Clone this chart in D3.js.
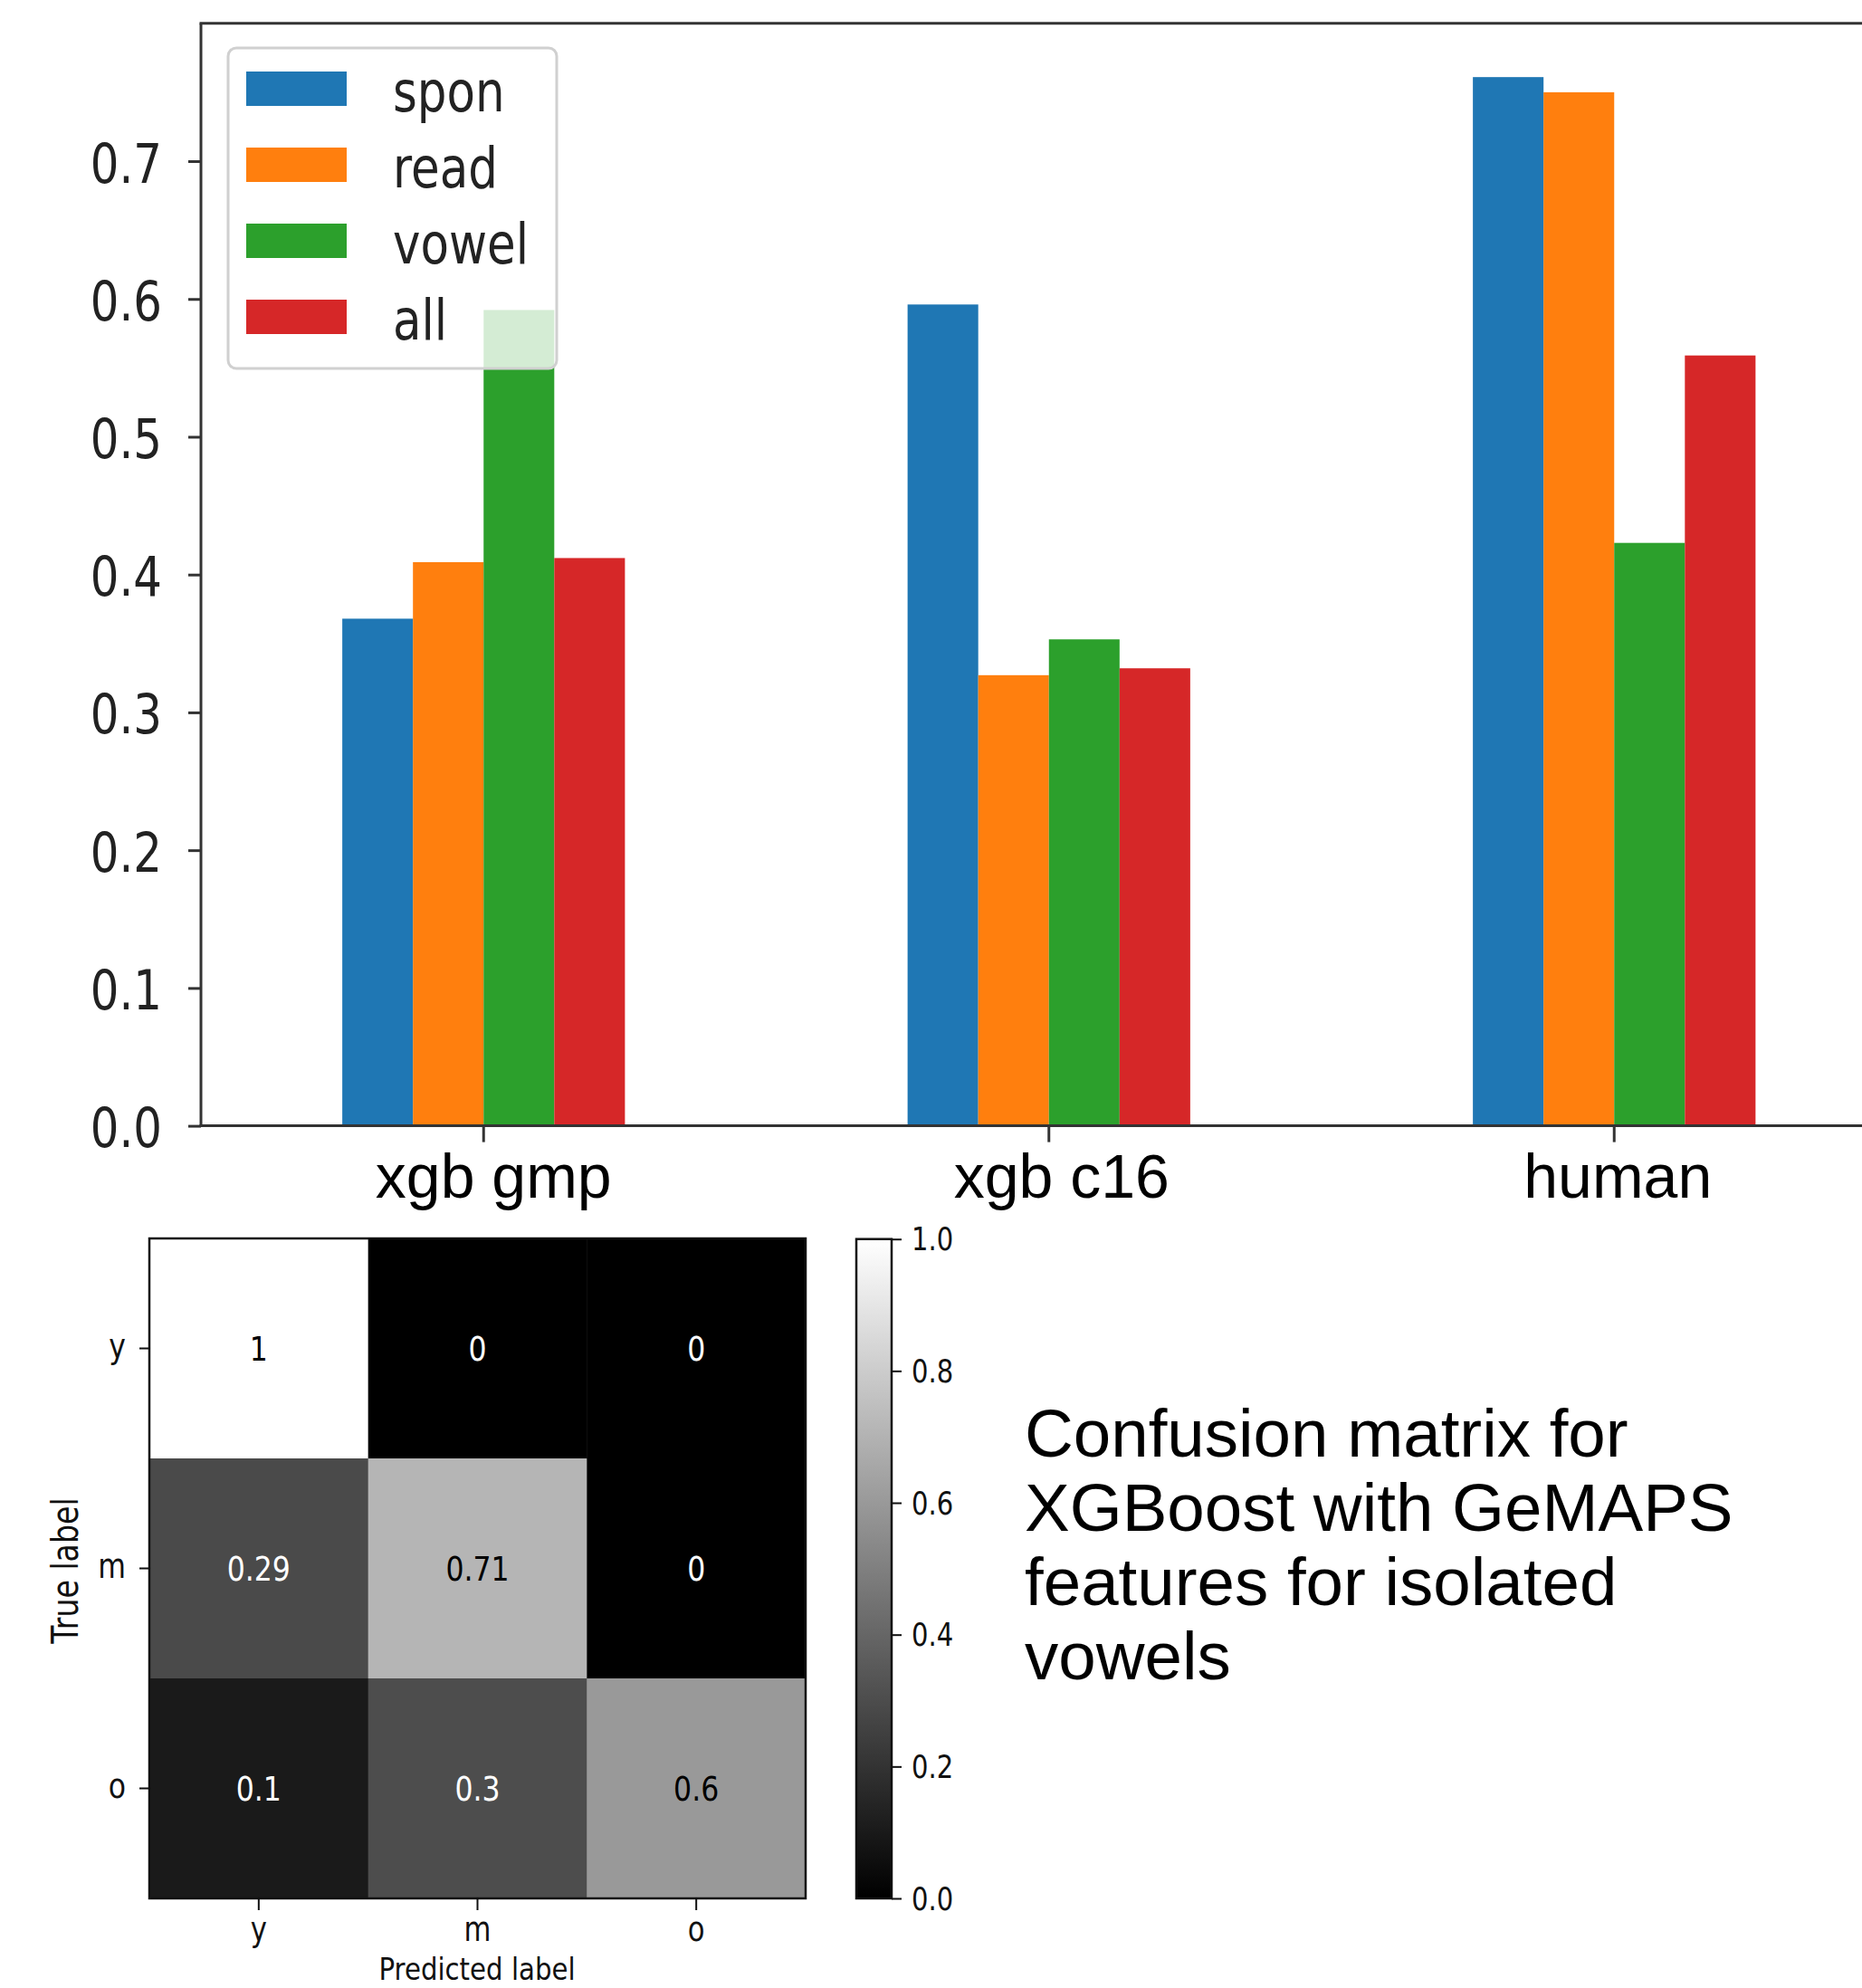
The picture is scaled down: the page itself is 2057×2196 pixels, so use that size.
<!DOCTYPE html>
<html><head><meta charset="utf-8">
<script src="https://cdn.jsdelivr.net/npm/d3@7"></script>
<style>html,body{margin:0;padding:0;background:#fff;} svg{display:block;}</style>
</head><body>
<svg id="chart" width="2057" height="2196"></svg>
<script>
// ---------- data ----------
const categories = ["xgb gmp", "xgb c16", "human"];
const seriesNames = ["spon", "read", "vowel", "all"];
const spon  = [0.368, 0.596, 0.761];
const read  = [0.409, 0.327, 0.750];
const vowel = [0.592, 0.353, 0.423];
const all   = [0.412, 0.332, 0.559];
const seriesColors = ["#1f77b4", "#ff7f0e", "#2ca02c", "#d62728"];
const yTicks = [0.0, 0.1, 0.2, 0.3, 0.4, 0.5, 0.6, 0.7];

const cmLabels = ["y", "m", "o"];
const cmRowY = [1, 0, 0];
const cmRowM = [0.29, 0.71, 0];
const cmRowO = [0.1, 0.3, 0.6];
const cbTicks = [0.0, 0.2, 0.4, 0.6, 0.8, 1.0];
const captionLines = ["Confusion matrix for", "XGBoost with GeMAPS", "features for isolated", "vowels"];

// ---------- setup ----------
const svg = d3.select("#chart");
const MPL = "'DejaVu Sans', sans-serif";
const ARIAL = "'Liberation Sans', Arial, sans-serif";
const K = 0.83; // horizontal squeeze of the low-res matplotlib glyphs
const seriesValues = [spon, read, vowel, all];

// ---------- bar chart ----------
const bL = 222, bT = 25.8, bB = 1243.6, step = 624.5;
const bR = bL + step * categories.length;
const x0 = d3.scaleBand().domain(categories).range([bL, bR]).paddingInner(0.5).paddingOuter(0.25);
const x1 = d3.scaleBand().domain(seriesNames).range([0, x0.bandwidth()]);
const y = d3.scaleLinear().domain([0, 0.8]).range([bB, bT]);

const bars = svg.append("g");
seriesNames.forEach((s, j) => {
  bars.selectAll(null).data(seriesValues[j]).enter().append("rect")
    .attr("x", (d, i) => x0(categories[i]) + x1(s))
    .attr("y", d => y(d))
    .attr("width", x1.bandwidth())
    .attr("height", d => y(0) - y(d))
    .attr("fill", seriesColors[j]);
});

// y axis
const yAx = svg.append("g").attr("transform", `translate(${bL},0)`)
  .call(d3.axisLeft(y).tickValues(yTicks).tickSize(14).tickFormat(d3.format(".1f")));
yAx.select(".domain").remove();
yAx.selectAll(".tick line").attr("stroke", "#333").attr("stroke-width", 3);
yAx.selectAll(".tick text").attr("x", null).attr("dy", null)
  .attr("transform", `translate(-43,23) scale(${K},1)`)
  .attr("font-family", MPL).attr("font-size", 60).attr("fill", "#222");

// x axis
const labelShift = {"xgb gmp": 11, "xgb c16": 14, "human": 4};
const xAx = svg.append("g").attr("transform", `translate(0,${bB})`)
  .call(d3.axisBottom(x0).tickSize(18));
xAx.select(".domain").remove();
xAx.selectAll(".tick line").attr("stroke", "#333").attr("stroke-width", 3);
xAx.selectAll(".tick text").attr("y", null).attr("dy", null)
  .attr("transform", d => `translate(${labelShift[d]},79)`)
  .attr("font-family", ARIAL).attr("font-size", 68).attr("fill", "#000");

// spines
const sp = svg.append("g").attr("stroke", "#333").attr("stroke-width", 3).attr("fill", "none");
sp.append("line").attr("x1", bL).attr("x2", bL).attr("y1", bT).attr("y2", bB);
sp.append("line").attr("x1", bL - 1.5).attr("x2", bR).attr("y1", bT).attr("y2", bT);
sp.append("line").attr("x1", bL - 1.5).attr("x2", bR).attr("y1", bB).attr("y2", bB);
sp.append("line").attr("x1", bR).attr("x2", bR).attr("y1", bT).attr("y2", bB);

// legend
const lg = svg.append("g");
lg.append("rect").attr("x", 252).attr("y", 53).attr("width", 363).attr("height", 354)
  .attr("rx", 9).attr("fill", "#fff").attr("fill-opacity", 0.8)
  .attr("stroke", "#d0d0d0").attr("stroke-width", 3);
const legY = d3.scalePoint().domain(seriesNames).range([98, 350]);
seriesNames.forEach((s, j) => {
  lg.append("rect").attr("x", 272).attr("y", legY(s) - 19).attr("width", 111).attr("height", 38)
    .attr("fill", seriesColors[j]);
  lg.append("text").attr("transform", `translate(434,${legY(s) + 25}) scale(${K},1)`)
    .attr("font-family", MPL).attr("font-size", 62).attr("fill", "#222").text(s);
});

// ---------- confusion matrix ----------
const cmMatrix = [cmRowY, cmRowM, cmRowO];
const cmX = d3.scaleBand().domain(cmLabels).range([165, 890]);
const cmY = d3.scaleBand().domain(cmLabels).range([1368, 2097]);
const gray = d3.scaleLinear().domain([0, 1]).range(["#000000", "#ffffff"]);
const fmt = d3.format(".2~g");
const cells = [];
cmMatrix.forEach((row, r) => row.forEach((v, c) => cells.push({r, c, v})));
const cm = svg.append("g");
cm.selectAll("rect.cell").data(cells).enter().append("rect")
  .attr("x", d => cmX(cmLabels[d.c])).attr("y", d => cmY(cmLabels[d.r]))
  .attr("width", cmX.bandwidth() + 0.5).attr("height", cmY.bandwidth() + 0.5)
  .attr("fill", d => gray(d.v));
cm.selectAll("text.val").data(cells).enter().append("text")
  .attr("transform", d => `translate(${cmX(cmLabels[d.c]) + cmX.bandwidth() / 2},${cmY(cmLabels[d.r]) + cmY.bandwidth() / 2 + 13}) scale(${K},1)`)
  .attr("text-anchor", "middle").attr("font-family", MPL).attr("font-size", 38)
  .attr("fill", d => d.v < 0.5 ? "#fff" : "#000").text(d => fmt(d.v));
cm.append("rect").attr("x", 165).attr("y", 1368).attr("width", 725).attr("height", 729)
  .attr("fill", "none").attr("stroke", "#111").attr("stroke-width", 2.5);

const cmYAx = svg.append("g").attr("transform", "translate(165,0)").call(d3.axisLeft(cmY).tickSize(11));
cmYAx.select(".domain").remove();
cmYAx.selectAll(".tick line").attr("stroke", "#111").attr("stroke-width", 2);
cmYAx.selectAll(".tick text").attr("x", null).attr("dy", null)
  .attr("transform", `translate(-26,10) scale(${K},1)`)
  .attr("font-family", MPL).attr("font-size", 38).attr("fill", "#111");

const cmXAx = svg.append("g").attr("transform", "translate(0,2097)").call(d3.axisBottom(cmX).tickSize(13));
cmXAx.select(".domain").remove();
cmXAx.selectAll(".tick line").attr("stroke", "#111").attr("stroke-width", 2);
cmXAx.selectAll(".tick text").attr("y", null).attr("dy", null)
  .attr("transform", `translate(0,47) scale(${K},1)`)
  .attr("font-family", MPL).attr("font-size", 37).attr("fill", "#111");

svg.append("text").attr("transform", `translate(527,2187) scale(0.86,1)`).attr("text-anchor", "middle")
  .attr("font-family", MPL).attr("font-size", 34).attr("fill", "#111").text("Predicted label");
svg.append("text").attr("transform", `translate(86,1735) rotate(-90) scale(${K},1)`).attr("text-anchor", "middle")
  .attr("font-family", MPL).attr("font-size", 40).attr("fill", "#111").text("True label");

// colorbar
const defs = svg.append("defs");
const grad = defs.append("linearGradient").attr("id", "cbg").attr("x1", 0).attr("y1", 1).attr("x2", 0).attr("y2", 0);
grad.append("stop").attr("offset", "0%").attr("stop-color", gray(0));
grad.append("stop").attr("offset", "100%").attr("stop-color", gray(1));
const cbY = d3.scaleLinear().domain([0, 1]).range([2097, 1368.7]);
svg.append("rect").attr("x", 946).attr("y", cbY(1)).attr("width", 39).attr("height", cbY(0) - cbY(1))
  .attr("fill", "url(#cbg)").attr("stroke", "#111").attr("stroke-width", 2.5);
const cbAx = svg.append("g").attr("transform", "translate(985,0)")
  .call(d3.axisRight(cbY).tickValues(cbTicks).tickSize(11).tickFormat(d3.format(".1f")));
cbAx.select(".domain").remove();
cbAx.selectAll(".tick line").attr("stroke", "#111").attr("stroke-width", 2);
cbAx.selectAll(".tick text").attr("x", null).attr("dy", null)
  .attr("transform", `translate(22,12) scale(${K},1)`)
  .attr("font-family", MPL).attr("font-size", 35).attr("fill", "#111");

// caption
const cap = svg.append("text").attr("font-family", ARIAL).attr("font-size", 74.5).attr("fill", "#000");
captionLines.forEach((t, i) => {
  cap.append("tspan").attr("x", 1132).attr("y", 1609 + i * 82).text(t);
});
</script>
</body></html>
